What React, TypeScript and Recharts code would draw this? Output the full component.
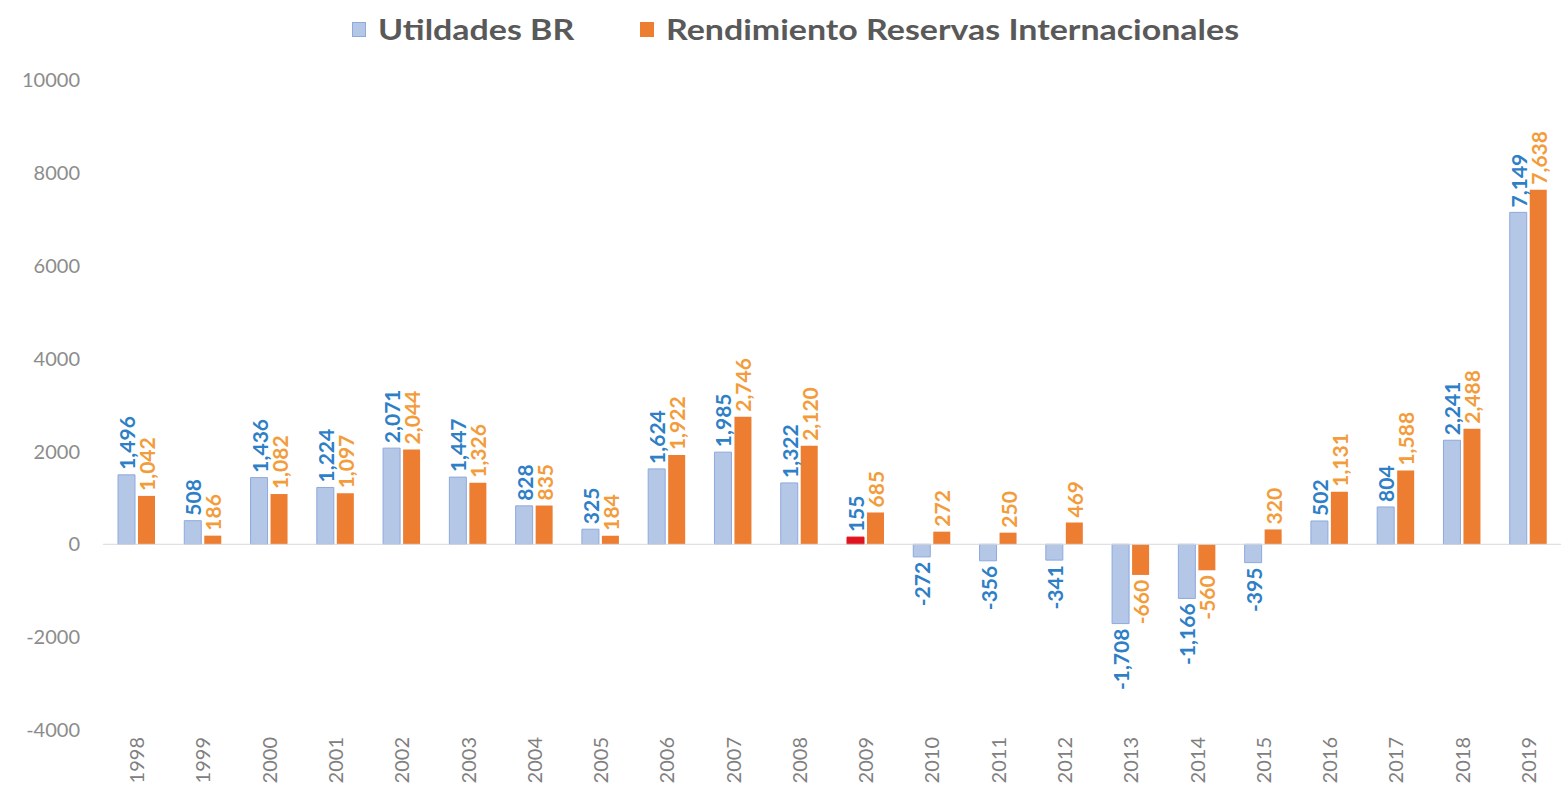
import { BarChart, Bar, XAxis, YAxis, ReferenceLine, LabelList, Cell } from "recharts";

const years = [
  "1998", "1999", "2000", "2001", "2002", "2003", "2004", "2005", "2006", "2007", "2008",
  "2009", "2010", "2011", "2012", "2013", "2014", "2015", "2016", "2017", "2018", "2019",
];
const utilidades = [
  1496, 508, 1436, 1224, 2071, 1447, 828, 325, 1624, 1985, 1322,
  155, -272, -356, -341, -1708, -1166, -395, 502, 804, 2241, 7149,
];
const rendimiento = [
  1042, 186, 1082, 1097, 2044, 1326, 835, 184, 1922, 2746, 2120,
  685, 272, 250, 469, -660, -560, 320, 1131, 1588, 2488, 7638,
];
const yTicks = [-4000, -2000, 0, 2000, 4000, 6000, 8000, 10000];
const highlightYear = "2009";

const data = years.map((year, i) => ({ year, utilidades: utilidades[i], rendimiento: rendimiento[i] }));

const FONT = "Lato, 'Open Sans', sans-serif";
const BLUE_FILL = "#b4c7e7";
const BLUE_STROKE = "#8eaadb";
const BLUE_TEXT = "#2e7fc6";
const ORANGE_FILL = "#ed7d31";
const ORANGE_TEXT = "#f39c3c";
const RED = "#e0141e";

const makeLabel = (color: string) => (props: any) => {
  const { x, y, width, height, value } = props;
  const top = Math.min(y, y + height);
  const bottom = Math.max(y, y + height);
  const cx = x + width / 2;
  const pos = value >= 0;
  const ay = pos ? top - 5 : bottom + 5;
  return (
    <text
      x={cx}
      y={ay}
      transform={`rotate(-90, ${cx}, ${ay})`}
      textAnchor={pos ? "start" : "end"}
      dominantBaseline="central"
      fill={color}
      fontFamily={FONT}
      fontWeight={700}
      fontSize={21}
    >
      {Number(value).toLocaleString("en-US")}
    </text>
  );
};

const YearTick = (props: any) => {
  const { x, y, payload } = props;
  const ay = y + 5;
  return (
    <text
      x={x}
      y={ay}
      transform={`rotate(-90, ${x}, ${ay})`}
      textAnchor="end"
      dominantBaseline="central"
      fill="#808080"
      fontFamily={FONT}
      fontSize={20}
    >
      {payload.value}
    </text>
  );
};

const LegendItem = ({ left, color, border, label }: any) => (
  <div style={{ position: "absolute", left, top: 0, display: "flex", alignItems: "center" }}>
    <span style={{ width: 14, height: 15, background: color, border: border ? `1px solid ${border}` : "none", marginRight: 12, boxSizing: "border-box" }} />
    <span
      style={{
        fontFamily: FONT,
        fontWeight: 700,
        fontSize: 29,
        color: "#595959",
        lineHeight: "36px",
        display: "inline-block",
        transform: "scaleX(1.17)",
        transformOrigin: "left center",
        whiteSpace: "nowrap",
      }}
    >
      {label}
    </span>
  </div>
);

export default function App() {
  return (
    <div style={{ position: "absolute", left: 0, top: 0, width: 1562, height: 801, background: "#fff" }}>
      <div style={{ position: "absolute", left: 0, top: 11, width: 1562, height: 36 }}>
        <LegendItem left={352} color={BLUE_FILL} border={BLUE_STROKE} label="Utildades BR" />
        <LegendItem left={640} color={ORANGE_FILL} label="Rendimiento Reservas Internacionales" />
      </div>
      <BarChart
        width={1562}
        height={801}
        data={data}
        margin={{ top: 80, right: 1, bottom: 0, left: 0 }}
        barSize={17}
        barGap={3}
      >
        <YAxis
          domain={[-4000, 10000]}
          ticks={yTicks}
          width={103}
          axisLine={false}
          tickLine={false}
          tickSize={0}
          tickMargin={23}
          tick={{ fill: "#8c8c8c", fontFamily: FONT, fontSize: 20 }}
          interval={0}
        />
        <XAxis
          dataKey="year"
          height={71}
          axisLine={false}
          tickLine={false}
          tickSize={0}
          tick={<YearTick />}
          interval={0}
        />
        <ReferenceLine y={0} stroke="#d9d9d9" strokeWidth={1} />
        <Bar dataKey="utilidades" fill={BLUE_FILL} stroke={BLUE_STROKE} strokeWidth={1} isAnimationActive={false}>
          {data.map((d) => (
            <Cell key={d.year} fill={d.year === highlightYear ? RED : BLUE_FILL} stroke={d.year === highlightYear ? RED : BLUE_STROKE} />
          ))}
          <LabelList dataKey="utilidades" content={makeLabel(BLUE_TEXT)} />
        </Bar>
        <Bar dataKey="rendimiento" fill={ORANGE_FILL} isAnimationActive={false}>
          <LabelList dataKey="rendimiento" content={makeLabel(ORANGE_TEXT)} />
        </Bar>
      </BarChart>
    </div>
  );
}
